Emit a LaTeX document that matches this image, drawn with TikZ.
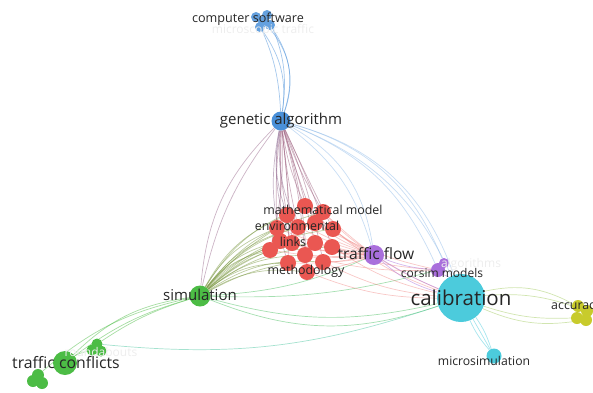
\documentclass[tikz,border=0pt]{standalone}
\usepackage{fontspec}
\setmainfont{Open Sans}
\usepackage{xcolor}
\usetikzlibrary{backgrounds}
\definecolor{cb}{HTML}{4a90d9}
\definecolor{cr}{HTML}{e8443f}
\definecolor{cp}{HTML}{a96fdc}
\definecolor{cc}{HTML}{4ccbdc}
\definecolor{cg}{HTML}{4cbc45}
\definecolor{cy}{HTML}{c8cb2c}

\begin{document}
\begin{tikzpicture}[x=1pt, y=-1pt,
  ball/.style={circle, inner sep=0pt, minimum size=#1},
  kw/.style={font=\fontsize{#1}{#1}\selectfont, text=black!85, inner sep=0pt},
  ghost/.style={font=\fontsize{12}{12}\selectfont, text=black!7, inner sep=0pt},
  link/.style={line width=0.7pt, opacity=0.5}]
  \clip (0,0) rectangle (593,392);
  % clusters
  \foreach \x/\y [count=\i] in {256/17,267/15,260/27,270/25,263/21}
    \node[ball=10pt, fill=cb!85] (cs\i) at (\x,\y) {};
  \node[ball=19pt, fill=cb] (ga) at (281,121) {};
  \foreach \x/\y [count=\i] in {305/206,287/215,323/212,277/228,298/227,315/223,333/229,
      280/241,292/243,315/243,332/247,288/263,305/255,323/262,307/272,270/250}
    \node[ball=16pt, fill=cr!90] (r\i) at (\x,\y) {};
  \node[ball=20pt, fill=cp] (tf) at (374,255) {};
  \node[ball=14pt, fill=cp] (co) at (438,270) {};
  \node[ball=10pt, fill=cp] (co2) at (444,263) {};
  \node[ball=48pt, fill=cc] (cal) at (461,298) {};
  \foreach \x/\y [count=\i] in {578/306,587/311,577/318,586/320}
    \node[ball=12pt, fill=cy] (ac\i) at (\x,\y) {};
  \node[ball=15pt, fill=cc] (ms) at (494,356) {};
  \node[ball=21pt, fill=cg] (sim) at (200,296) {};
  \node[ball=24pt, fill=cg] (tc) at (65,363) {};
  \foreach \x/\y [count=\i] in {97/344,92/350,101/351}
    \node[ball=11pt, fill=cg] (ga\i) at (\x,\y) {};
  \foreach \x/\y [count=\i] in {38/375,33/381,42/383}
    \node[ball=12pt, fill=cg] (gb\i) at (\x,\y) {};
  % links
  \begin{scope}[on background layer]
    \foreach \i in {1,...,5} \draw[link, cb] (cs\i) to[bend left=6+5*\i] (ga);
    \foreach \i in {1,...,16} \draw[link, cr!55!cb] (ga) to[bend right=8-\i] (r\i);
    \foreach \i in {2,5,9,12} \draw[link, cr!45!cb] (ga) to[bend right=14] (r\i);
    \foreach \t/\b in {tf/18,co/22,co2/26,cal/28,cal/22,tf/26} \draw[link, cb!60] (ga) to[bend left=\b] (\t);
    \foreach \b in {12,20} \draw[link, cr!50!cb] (ga) to[bend right=\b] (sim);
    \foreach \i in {1,...,16} \draw[link, cg!70!cr] (sim) to[bend left=18] (r\i);
    \foreach \i in {4,8,12,16} \draw[link, cg!70!cr] (sim) to[bend left=8] (r\i);
    \foreach \t/\b in {tf/10,co/8,cal/14,cal/20} \draw[link, cg!80!cc] (sim) to[bend right=\b] (\t);
    \foreach \i in {1,...,16} \draw[link, cr!60] (r\i) to[bend right=6] (tf);
    \foreach \i in {3,7,11,14,15} \draw[link, cr!60] (r\i) to[bend right=10] (cal);
    \foreach \i in {6,10,13} \draw[link, cr!60] (r\i) to[bend right=8] (co);
    \foreach \t/\b in {co/8,cal/12,cal/4} \draw[link, cp] (tf) to[bend right=\b] (\t);
    \draw[link, cp] (co) to[bend left=10] (cal);
    \foreach \t/\b in {tc/10,tc/18,ga1/8,gb1/14} \draw[link, cg] (sim) to[bend right=\b] (\t);
    \draw[link, cg] (tc) to[bend left=10] (ga2);
    \draw[link, cc!60!cg] (ga1) to[bend right=12] (cal);
    \foreach \i/\b in {1/20,2/12,3/-10,4/-16} \draw[link, cy!70!cc] (cal) to[bend left=\b] (ac\i);
    \foreach \b in {-8,0,8} \draw[link, cc] (cal) to[bend left=\b] (ms);
  \end{scope}
  % labels
  \node[ghost] (l1) at (263,30) {microscopic traffic};
  \node[ghost] (l2) at (471,264) {algorithms};
  \node[ghost] (l3) at (101,352) {roundabouts};
  \node[kw=12.6] (tcs) at (248,19) {computer software};
  \node[kw=15] (tga) at (281,121) {genetic algorithm};
  \node[kw=12.4] (tmm) at (323,210) {mathematical model};
  \node[kw=12.4] (ten) at (297,226) {environmental};
  \node[kw=12.4] (tli) at (293,242) {links};
  \node[kw=12.4] (tme) at (306,271) {methodology};
  \node[kw=15.6] (ttf) at (376,254) {traffic flow};
  \node[kw=12] (tco) at (442,273) {corsim models};
  \node[kw=20.5] (tcal) at (461,298) {calibration};
  \node[kw=12.4] (tac) at (551,308) [anchor=west] {accuracy};
  \node[kw=12.2] (tms) at (484,361) {microsimulation};
  \node[kw=15] (tsim) at (200,295) {simulation};
  \node[kw=15.8] (ttc) at (66,363) {traffic conflicts};
\end{tikzpicture}
\end{document}
